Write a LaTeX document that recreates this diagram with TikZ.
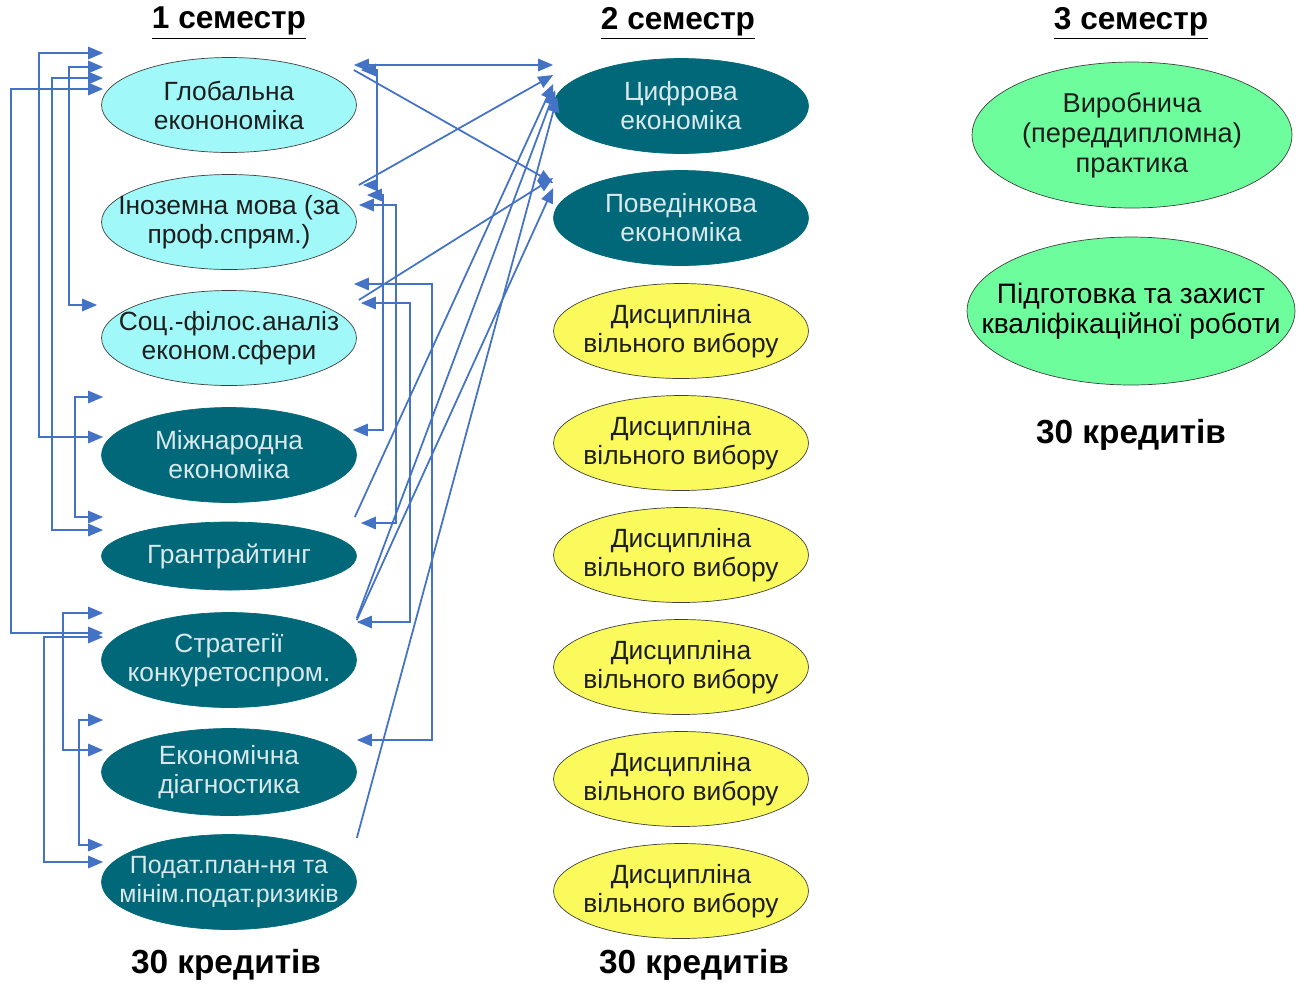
\documentclass[tikz,border=0pt]{standalone}
\usepackage{fontspec}
\setmainfont{Liberation Sans}
\usetikzlibrary{arrows.meta,positioning,calc,shapes.geometric}
\definecolor{firstsem}{HTML}{A0F8F8}
\definecolor{tealdark}{HTML}{006878}
\definecolor{elective}{HTML}{FAFA5C}
\definecolor{finalsem}{HTML}{6EFD9C}
\definecolor{edge}{HTML}{404040}
\definecolor{ink}{HTML}{1E1E1E}
\definecolor{linkblue}{HTML}{4472C4}

\begin{document}
\begin{tikzpicture}[x=0.02cm,y=-0.02cm,
  oval/.style={ellipse,minimum width=5.1cm,minimum height=1.9cm,inner xsep=-1.5cm,inner ysep=0pt,align=center,font=\fontsize{15}{16.5}\selectfont},
  light/.style={oval,draw=edge,fill=firstsem,text=ink},
  dark/.style={oval,draw=tealdark,fill=tealdark,text=white!85!tealdark},
  choice/.style={oval,draw=edge,fill=elective,text=ink},
  stage/.style={oval,draw=edge,fill=finalsem,text=ink},
  head/.style={font=\fontsize{18}{20}\selectfont\bfseries},
  link/.style={draw=linkblue,line width=1pt,{Triangle[length=8.5pt,width=7pt]}-{Triangle[length=8.5pt,width=7pt]}},
  oneway/.style={draw=linkblue,line width=1pt,-{Triangle[length=8.5pt,width=7pt]}}]
  \useasboundingbox (0,0) rectangle (1304,985);

  % semester titles
  \node[head] (t1) at (229,23) {\underline{1 семестр}};
  \node[head] (t2) at (678,23) {\underline{2 семестр}};
  \node[head] (t3) at (1131,23) {\underline{3 семестр}};

  % semester 1
  \node[light] (glob) at (229,105) {Глобальна\\еконономіка};
  \node[light] (lang) at (229,222) {Іноземна мова (за\\проф.спрям.)};
  \node[light] (soc) at (229,338) {Соц.-філос.аналіз\\економ.сфери};
  \node[dark] (intl) at (229,455) {Міжнародна\\економіка};
  \node[dark,minimum height=1.36cm] (grant) at (229,556) {Грантрайтинг};
  \node[dark] (strat) at (229,660) {Стратегії\\конкуретоспром.};
  \node[dark,minimum height=1.74cm] (diag) at (229,772) {Економічна\\діагностика};
  \node[dark,font=\fontsize{14.2}{16.5}\selectfont] (tax) at (229,882) {Подат.план-ня та\\мінім.подат.ризиків};

  % semester 2
  \node[dark] (digit) at (681,106) {Цифрова\\економіка};
  \node[dark] (behav) at (681,218) {Поведінкова\\економіка};
  \foreach \i/\y in {1/331,2/443,3/555,4/667,5/779,6/891}
    \node[choice] (free\i) at (681,\y) {Дисципліна\\вільного вибору};

  % semester 3
  \node[stage,minimum width=6.4cm,minimum height=2.92cm,font=\fontsize{15.5}{17}\selectfont] (prac) at (1132,135) {Виробнича\\(переддипломна)\\практика};
  \node[stage,minimum width=6.56cm,minimum height=2.96cm,text=black,font=\fontsize{16}{17}\selectfont] (thesis) at (1131,311) {Підготовка та захист\\кваліфікаційної роботи};

  % credits
  \node[head,font=\fontsize{19}{21}\selectfont\bfseries] (c1) at (226,965) {30 кредитів};
  \node[head,font=\fontsize{19}{21}\selectfont\bfseries] (c2) at (694,965) {30 кредитів};
  \node[head,font=\fontsize{19}{21}\selectfont\bfseries] (c3) at (1131,435) {30 кредитів};

  % links on the left
  \draw[link] ($(glob.west)+(2,-52)$) -- ++(-64,0) |- ($(intl.west)+(2,-18)$);
  \draw[link] ($(glob.west)+(2,-38)$) -- ++(-34,0) |- ($(soc.west)+(-4,-33)$);
  \draw[link] ($(glob.west)+(2,-27)$) -- ++(-51,0) |- ($(grant.west)+(2,-26)$);
  \draw[link] ($(glob.west)+(2,-16)$) -- ++(-92,0) |- ($(strat.west)+(2,-27)$);
  \draw[link] ($(intl.west)+(2,-58)$) -- ++(-28,0) |- ($(grant.west)+(2,-39)$);
  \draw[link] ($(strat.west)+(2,-47)$) -- ++(-40,0) |- ($(diag.west)+(2,-22)$);
  \draw[link] ($(strat.west)+(2,-23)$) -- ++(-59,0) |- ($(tax.west)+(2,-20)$);
  \draw[link] ($(diag.west)+(2,-52)$) -- ++(-24,0) |- ($(tax.west)+(2,-37)$);

  % links on the right
  \draw[link] ($(glob.east)+(4,-35)$) -- ++(16.5,0) |- ($(lang.east)+(6,-37)$);
  \draw[link] ($(lang.east)+(10,-27)$) -- ++(16.5,0) |- ($(intl.east)+(-4,-25)$);
  \draw[link] ($(lang.east)+(2,-17)$) -- ++(37.5,0) |- ($(grant.east)+(4,-33)$);
  \draw[link] ($(soc.east)+(-3,-54)$) -- ++(78.5,0) |- ($(diag.east)+(0,-32)$);
  \draw[link] ($(soc.east)+(4,-35)$) -- ++(49.5,0) |- ($(strat.east)+(0,-38)$);

  % links to semester 2
  \draw[link] ($(glob.east)+(-3,-40)$) -- ($(digit.west)+(0,-41)$);
  \draw[oneway] ($(glob.east)+(-3,-35)$) -- ($(behav.west)+(0,-35)$);
  \draw[oneway] ($(lang.east)+(2,-37)$) -- ($(digit.west)+(0,-31)$);
  \draw[oneway] ($(soc.east)+(2,-38)$) -- ($(behav.west)+(0,-40)$);
  \draw[oneway] ($(grant.east)+(-2,-39)$) -- ($(digit.west)+(0,-22)$);
  \draw[oneway] ($(strat.east)+(0,-42)$) -- ($(digit.west)+(2,-16)$);
  \draw[oneway] ($(strat.east)+(0,-40)$) -- ($(behav.west)+(0,-30)$);
  \draw[oneway] ($(tax.east)+(0,-44)$) -- ($(digit.west)+(4,-9)$);
\end{tikzpicture}
\end{document}
